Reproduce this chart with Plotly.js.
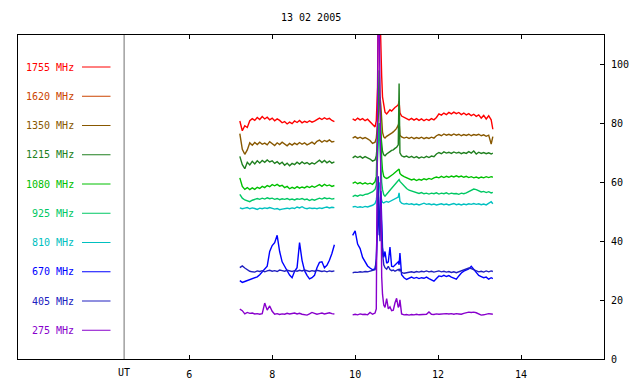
<!DOCTYPE html>
<html>
<head>
<meta charset="utf-8">
<script src="https://cdn.plot.ly/plotly-3.0.1.min.js"></script>
<style>html,body{margin:0;padding:0;background:#fff;}#chart{width:640px;height:384px;}</style>
</head>
<body>
<div id="chart"></div>
<script>
// ---- time axis (UT hours) ----
const time1 = [7.22,7.28,7.34,7.40,7.46,7.52,7.58,7.64,7.70,7.76,7.82,7.88,7.94,8.00,8.06,8.12,8.18,8.24,8.30,8.36,8.42,8.48,8.54,8.60,8.66,8.72,8.78,8.84,8.90,8.96,9.02,9.08,9.14,9.20,9.26,9.32,9.38,9.44,9.50];
const time2 = [9.94,10.00,10.06,10.12,10.18,10.24,10.30,10.36,10.42,10.48,10.51,10.54,10.56,10.58,10.60,10.62,10.64,10.66,10.69,10.72,10.76,10.80,10.84,10.88,10.92,10.96,11.00,11.04,11.06,11.08,11.12,11.18,11.24,11.30,11.36,11.42,11.48,11.54,11.60,11.66,11.72,11.78,11.84,11.90,11.96,12.02,12.08,12.14,12.20,12.26,12.32,12.38,12.44,12.50,12.56,12.62,12.68,12.74,12.80,12.86,12.92,12.98,13.04,13.10,13.16,13.22,13.28,13.32];
const gapTime = 9.72;

// ---- legend / channels ----
const channels = ["1755 MHz","1620 MHz","1350 MHz","1215 MHz","1080 MHz","925 MHz","810 MHz","670 MHz","405 MHz","275 MHz"];
const colors   = ["#ff0000","#cc4400","#885800","#208020","#00c000","#00c864","#00c0c0","#0000ff","#2020c0","#8800cc"];

// ---- flux values, segment 1 (a) and segment 2 (b) ----
const f1755a = [80.8,77.5,79.2,78.6,80.9,81.6,81.0,82.0,81.3,82.3,81.5,82.1,81.2,81.8,80.9,81.5,81.0,80.2,80.6,79.8,80.4,79.9,80.8,80.3,81.0,80.2,80.7,80.3,80.9,80.4,80.8,81.4,81.8,81.3,81.9,81.4,81.7,81.0,80.6];
const f1755b = [81.5,81.0,81.8,81.2,81.6,80.9,81.4,80.6,79.5,78.8,80.8,92,125,130,118,104,96,89,85.5,83.8,83.2,84.0,84.6,84.2,85.0,85.4,85.8,86.3,87.5,83.6,82.5,82.0,81.6,81.2,81.7,81.1,81.6,81.0,81.5,80.9,81.4,81.0,81.6,81.2,82.0,83.2,82.8,83.5,83.0,83.7,83.2,83.8,83.3,83.7,83.0,83.5,82.9,83.3,82.6,83.1,82.4,82.9,81.8,82.7,81.5,82.6,81.2,78.0];

const f1350a = [76.5,71.2,69.5,71.0,73.4,72.6,73.5,72.8,73.6,72.9,73.3,72.7,73.8,73.1,72.5,73.4,72.8,73.6,72.9,72.4,73.2,72.6,73.3,72.8,73.5,72.9,73.4,72.7,73.1,73.6,73.0,73.9,74.3,73.6,74.2,73.8,74.4,73.7,73.9];
const f1350b = [75.0,75.5,74.9,75.3,74.8,75.2,74.7,74.2,73.2,73.6,75.0,80.0,84.0,88.5,89.0,86.0,80.0,77.0,75.4,75.0,75.6,75.9,76.3,76.7,77.1,77.6,78.3,79.4,80.5,76.0,75.4,75.0,75.3,74.9,75.3,74.8,75.2,74.9,75.3,74.8,75.2,74.9,75.3,75.0,75.8,76.2,75.8,76.4,76.0,76.3,75.9,76.4,76.0,76.3,75.8,76.2,75.9,76.3,75.8,76.2,76.0,76.3,75.8,76.1,75.6,76.0,73.0,75.5];

const f1215a = [68.8,66.0,64.6,66.8,65.9,67.1,66.2,67.3,66.5,67.4,66.8,67.6,66.9,67.3,66.4,67.0,66.2,66.8,65.8,66.5,65.6,66.4,66.0,66.8,66.2,66.9,66.3,66.7,66.1,66.6,66.2,66.8,67.5,66.7,67.4,66.6,67.2,66.5,66.9];
const f1215b = [68.3,68.9,68.4,68.8,68.2,68.7,68.3,67.9,67.2,67.6,69.0,74.0,78.0,80.0,79.0,76.0,72.5,70.5,69.3,69.0,69.6,69.9,70.4,70.8,71.0,71.5,71.9,72.7,93.5,70.0,69.0,68.6,68.9,68.4,68.8,68.3,68.7,68.2,68.6,68.3,68.8,68.4,68.9,68.7,69.6,70.1,69.7,70.3,69.9,70.2,69.8,70.3,69.9,70.2,69.7,70.1,69.8,70.4,69.9,70.6,69.6,70.2,69.8,70.1,69.7,70.0,69.6,69.9];

const f1080a = [61.5,58.6,57.6,58.2,57.5,58.1,57.6,58.3,57.9,58.6,58.2,58.9,58.5,59.2,58.8,59.3,58.7,59.0,58.2,58.6,57.8,58.3,57.9,58.5,58.0,58.4,58.1,58.6,58.2,58.7,58.3,58.8,59.2,58.6,59.3,58.8,59.1,58.6,58.9];
const f1080b = [59.6,60.1,59.5,59.9,59.4,59.8,59.4,59.7,59.3,60.2,62.0,80.0,95.0,98.0,88.0,76.0,68.0,64.0,62.0,61.6,61.3,61.6,61.9,62.4,62.8,63.2,63.6,64.1,64.5,63.0,62.4,61.9,61.5,61.2,60.8,61.1,60.6,61.0,60.7,61.2,60.9,61.3,61.0,61.5,61.8,61.5,62.0,61.6,62.0,61.7,62.1,61.8,62.2,61.8,62.1,61.7,62.0,61.6,61.9,61.5,61.8,61.4,61.8,61.5,61.9,61.6,61.9,61.7];

const f925a = [55.9,54.6,54.0,53.6,53.4,53.9,54.1,54.5,54.2,54.6,54.3,54.7,54.4,54.6,54.2,54.5,54.1,54.4,54.2,54.5,54.1,54.3,54.0,54.4,54.2,54.5,54.1,54.3,53.8,54.2,53.9,54.3,54.6,54.3,54.7,54.4,54.6,54.3,54.5];
const f925b = [55.1,55.6,55.3,55.7,55.5,55.9,56.0,56.3,56.8,57.6,59.0,68.0,78.0,80.0,72.0,65.0,60.0,57.5,55.8,55.3,55.8,56.6,57.3,58.0,58.7,59.4,60.2,60.6,60.9,60.3,59.6,58.7,57.9,57.3,57.0,56.6,56.5,56.2,56.5,56.1,56.3,56.0,56.3,56.1,56.4,56.0,56.3,56.1,56.4,56.0,56.3,56.1,56.2,55.9,56.3,56.1,56.4,56.8,57.4,57.7,57.5,57.1,56.7,56.9,56.5,56.8,56.4,56.6];

const f810a = [51.3,51.0,51.2,51.4,51.0,51.3,51.1,50.8,51.2,51.0,51.3,51.1,51.4,51.2,50.9,51.1,50.7,50.9,51.0,51.2,51.0,51.3,51.1,51.6,51.3,51.7,51.2,51.0,51.3,51.1,51.2,51.0,51.3,51.1,51.4,51.6,51.3,51.5,51.4];
const f810b = [51.6,51.8,51.5,51.7,51.5,51.8,51.6,51.9,52.2,52.8,54.0,57.0,59.0,60.0,57.5,55.0,53.8,53.2,53.0,53.3,53.5,53.2,53.5,53.8,54.0,54.2,54.6,55.0,56.4,53.6,52.9,52.6,52.8,52.5,52.7,52.4,52.6,52.3,52.6,52.9,52.5,52.7,52.4,52.6,52.3,52.5,52.7,52.4,52.6,52.3,52.5,52.8,52.4,52.6,52.3,52.6,52.4,52.7,52.5,52.8,52.5,52.7,52.4,52.6,52.3,52.9,53.4,52.7];

const f670a = [26.6,26.0,26.3,26.6,26.9,27.2,27.4,27.9,28.6,29.5,30.5,31.5,36.5,38.5,39.5,42.0,36.5,33.0,31.5,29.8,28.5,27.6,29.8,31.0,39.5,33.5,30.0,28.4,27.2,27.6,28.4,31.0,32.8,33.0,31.0,31.8,33.5,35.8,38.8];
const f670b = [42.0,43.5,39.0,37.5,34.5,32.8,31.6,30.9,30.3,30.6,33.0,45.0,55.0,42.0,48.0,57.0,47.0,38.0,34.5,36.5,32.5,33.0,38.0,31.5,31.3,32.0,32.5,33.0,32.0,36.0,28.6,27.6,27.0,27.5,27.8,27.4,27.7,27.3,27.6,27.4,27.8,27.3,26.8,26.4,27.3,28.2,28.0,28.4,28.0,28.3,27.8,27.4,27.1,28.2,29.2,29.8,30.2,30.6,31.5,30.4,29.4,28.4,28.0,27.6,27.8,27.1,27.6,27.3];

const f405a = [31.0,31.6,30.9,30.2,29.8,29.6,29.5,29.9,29.7,30.0,29.6,29.9,30.1,29.8,30.0,29.7,30.2,30.0,29.8,30.1,29.9,29.7,30.0,29.8,30.1,29.9,30.2,29.9,29.7,30.0,29.8,30.1,29.9,29.7,29.9,29.6,29.9,29.7,29.9];
const f405b = [29.3,29.5,29.4,29.6,29.5,29.7,29.6,29.8,30.0,30.3,34.0,48.0,62.0,46.0,40.0,52.0,44.0,36.0,32.0,31.0,30.5,31.5,30.4,30.0,30.2,29.8,30.1,30.4,30.0,30.6,29.4,29.1,29.3,29.5,29.6,29.4,29.7,29.5,29.8,29.6,29.9,29.6,29.8,29.5,29.7,29.9,29.6,29.8,29.5,29.7,29.4,29.6,29.3,29.6,29.9,30.2,30.6,30.9,30.7,30.3,29.9,29.6,29.8,29.5,29.9,29.6,29.9,29.7];

const f275a = [16.9,16.4,15.3,15.8,15.5,15.6,15.3,15.4,15.2,15.4,19.0,16.6,18.0,16.2,15.2,15.4,15.1,15.3,15.2,15.5,15.3,15.4,15.6,15.3,15.5,15.2,15.0,14.9,15.3,15.8,15.5,15.2,15.4,15.6,15.3,15.5,15.7,15.4,15.3];
const f275b = [15.0,15.2,15.0,15.3,15.1,15.2,15.0,15.8,15.2,15.6,17.0,70.0,130.0,120.0,80.0,38.0,28.0,22.0,18.3,17.5,20.5,17.0,17.7,16.4,16.6,19.0,20.6,17.5,18.0,20.1,15.3,15.0,15.1,14.9,15.1,15.0,15.2,15.0,15.1,15.0,15.2,16.0,15.2,15.1,15.3,15.2,15.3,15.2,15.4,15.3,15.4,15.2,15.4,15.3,15.2,15.5,15.8,15.9,15.8,15.9,15.7,15.3,14.9,15.0,15.2,15.4,15.3,15.2];

// series drawn (1620 MHz has no data this day)
const seriesList = [
  {ch: 0, a: f1755a, b: f1755b},
  {ch: 2, a: f1350a, b: f1350b},
  {ch: 3, a: f1215a, b: f1215b},
  {ch: 4, a: f1080a, b: f1080b},
  {ch: 5, a: f925a,  b: f925b},
  {ch: 6, a: f810a,  b: f810b},
  {ch: 7, a: f670a,  b: f670b},
  {ch: 8, a: f405a,  b: f405b},
  {ch: 9, a: f275a,  b: f275b}
];

const xTicks = [6, 8, 10, 12, 14];
const yTicks = [0, 20, 40, 60, 80, 100];
const titleText = "13 02 2005";
const utDivider = 4.43;

const FONT = "DejaVu Sans Mono, Liberation Mono, monospace";
const time = time1.concat([gapTime], time2);

const traces = seriesList.map(s => ({
  type: "scatter",
  mode: "lines",
  x: time,
  y: s.a.concat([null], s.b),
  connectgaps: false,
  line: {color: colors[s.ch], width: 1.4},
  name: channels[s.ch],
  hoverinfo: "skip"
}));

const L = 18, R = 604, T = 35, B = 359, W = 640, H = 384;
const pw = R - L;
const px = v => (v - L) / pw;

const shapes = [
  {type: "line", xref: "x", yref: "paper", x0: utDivider, x1: utDivider, y0: 0, y1: 1,
   line: {color: "#707070", width: 1}}
];
const annotations = [
  {text: titleText, xref: "paper", yref: "paper", x: 0.5, y: 1 + (T - 18) / (B - T),
   xanchor: "center", yanchor: "middle", showarrow: false,
   font: {family: FONT, size: 10, color: "#000"}},
  {text: "UT", xref: "x", yref: "paper", x: utDivider, y: -(372 - B) / (B - T),
   xanchor: "center", yanchor: "middle", showarrow: false,
   font: {family: FONT, size: 10, color: "#000"}}
];
channels.forEach((c, i) => {
  const yPix = 67 + i * 29.25;
  const yp = (B - yPix) / (B - T);
  annotations.push({text: c, xref: "paper", yref: "paper", x: px(76), y: yp,
    xanchor: "right", yanchor: "middle", showarrow: false,
    font: {family: FONT, size: 10, color: colors[i]}});
  shapes.push({type: "line", xref: "paper", yref: "paper", x0: px(82), x1: px(110.5), y0: yp, y1: yp,
    line: {color: colors[i], width: 1}});
});

const layout = {
  width: W, height: H,
  margin: {l: L, r: W - R, t: T, b: H - B, pad: 0},
  paper_bgcolor: "#fff", plot_bgcolor: "#fff",
  showlegend: false,
  font: {family: FONT, size: 10, color: "#000"},
  xaxis: {
    range: [1.872, 16.0], tickvals: xTicks, ticktext: xTicks.map(String),
    ticks: "inside", ticklen: 4, tickcolor: "#000", tickwidth: 1,
    showline: true, linecolor: "#000", linewidth: 1, mirror: "ticks",
    showgrid: false, zeroline: false, ticklabelstandoff: 6,
    tickfont: {family: FONT, size: 10, color: "#000"}
  },
  yaxis: {
    range: [0, 110], side: "right", tickvals: yTicks, ticktext: yTicks.map(String),
    ticks: "inside", ticklen: 4, tickcolor: "#000", tickwidth: 1,
    showline: true, linecolor: "#000", linewidth: 1, mirror: true,
    showgrid: false, zeroline: false, ticklabelstandoff: 4,
    tickfont: {family: FONT, size: 10, color: "#000"}
  },
  shapes: shapes,
  annotations: annotations
};

Plotly.newPlot("chart", traces, layout, {staticPlot: true, displayModeBar: false});
</script>
</body>
</html>
